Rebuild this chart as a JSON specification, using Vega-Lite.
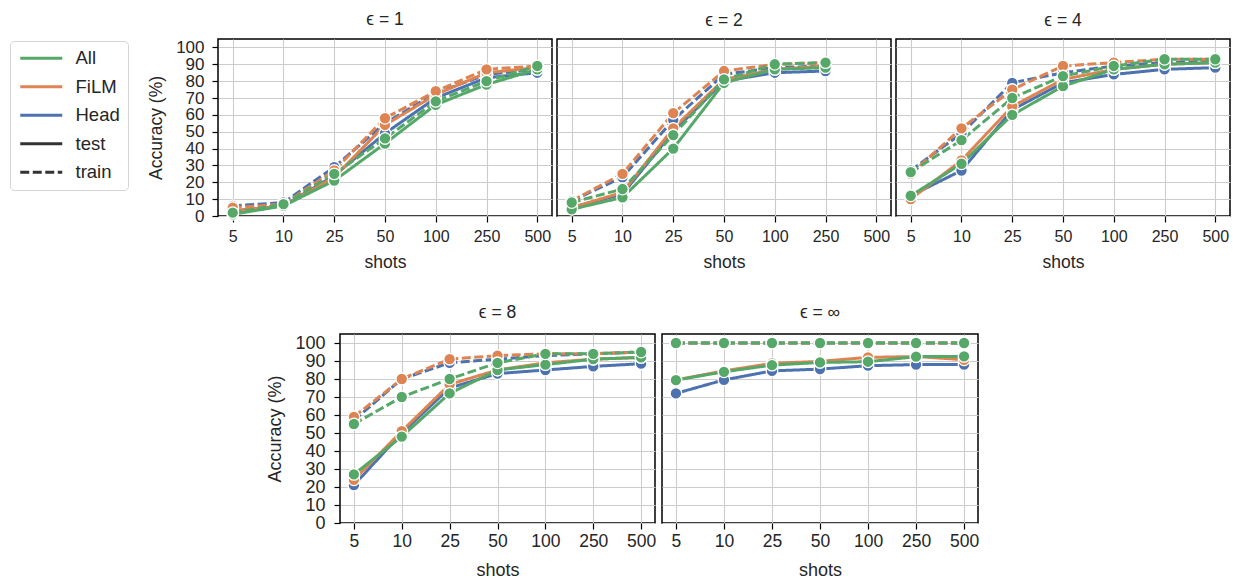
{
  "$schema": "https://vega.github.io/schema/vega-lite/v6.json",
  "padding": {"left": 9, "top": 10, "right": 2, "bottom": 0},
  "background": "white",
  "datasets": {
    "acc": [
      {"eps":"1","config":"Head","split":"test","shots":5,"acc":3},
      {"eps":"1","config":"Head","split":"test","shots":10,"acc":6},
      {"eps":"1","config":"Head","split":"test","shots":25,"acc":24},
      {"eps":"1","config":"Head","split":"test","shots":50,"acc":49},
      {"eps":"1","config":"Head","split":"test","shots":100,"acc":70},
      {"eps":"1","config":"Head","split":"test","shots":250,"acc":82},
      {"eps":"1","config":"Head","split":"test","shots":500,"acc":85},
      {"eps":"1","config":"Head","split":"train","shots":5,"acc":6},
      {"eps":"1","config":"Head","split":"train","shots":10,"acc":8},
      {"eps":"1","config":"Head","split":"train","shots":25,"acc":29},
      {"eps":"1","config":"Head","split":"train","shots":50,"acc":55},
      {"eps":"1","config":"Head","split":"train","shots":100,"acc":73},
      {"eps":"1","config":"Head","split":"train","shots":250,"acc":84},
      {"eps":"1","config":"Head","split":"train","shots":500,"acc":87},
      {"eps":"1","config":"FiLM","split":"test","shots":5,"acc":3},
      {"eps":"1","config":"FiLM","split":"test","shots":10,"acc":6},
      {"eps":"1","config":"FiLM","split":"test","shots":25,"acc":23},
      {"eps":"1","config":"FiLM","split":"test","shots":50,"acc":54},
      {"eps":"1","config":"FiLM","split":"test","shots":100,"acc":72},
      {"eps":"1","config":"FiLM","split":"test","shots":250,"acc":85},
      {"eps":"1","config":"FiLM","split":"test","shots":500,"acc":88},
      {"eps":"1","config":"FiLM","split":"train","shots":5,"acc":5},
      {"eps":"1","config":"FiLM","split":"train","shots":10,"acc":7},
      {"eps":"1","config":"FiLM","split":"train","shots":25,"acc":27},
      {"eps":"1","config":"FiLM","split":"train","shots":50,"acc":58},
      {"eps":"1","config":"FiLM","split":"train","shots":100,"acc":74},
      {"eps":"1","config":"FiLM","split":"train","shots":250,"acc":87},
      {"eps":"1","config":"FiLM","split":"train","shots":500,"acc":89},
      {"eps":"1","config":"All","split":"test","shots":5,"acc":1},
      {"eps":"1","config":"All","split":"test","shots":10,"acc":6},
      {"eps":"1","config":"All","split":"test","shots":25,"acc":21},
      {"eps":"1","config":"All","split":"test","shots":50,"acc":43},
      {"eps":"1","config":"All","split":"test","shots":100,"acc":66},
      {"eps":"1","config":"All","split":"test","shots":250,"acc":78},
      {"eps":"1","config":"All","split":"test","shots":500,"acc":87},
      {"eps":"1","config":"All","split":"train","shots":5,"acc":2},
      {"eps":"1","config":"All","split":"train","shots":10,"acc":7},
      {"eps":"1","config":"All","split":"train","shots":25,"acc":25},
      {"eps":"1","config":"All","split":"train","shots":50,"acc":46},
      {"eps":"1","config":"All","split":"train","shots":100,"acc":68},
      {"eps":"1","config":"All","split":"train","shots":250,"acc":80},
      {"eps":"1","config":"All","split":"train","shots":500,"acc":89},

      {"eps":"2","config":"Head","split":"test","shots":5,"acc":5},
      {"eps":"2","config":"Head","split":"test","shots":10,"acc":13},
      {"eps":"2","config":"Head","split":"test","shots":25,"acc":50},
      {"eps":"2","config":"Head","split":"test","shots":50,"acc":80},
      {"eps":"2","config":"Head","split":"test","shots":100,"acc":85},
      {"eps":"2","config":"Head","split":"test","shots":250,"acc":86},
      {"eps":"2","config":"Head","split":"train","shots":5,"acc":9},
      {"eps":"2","config":"Head","split":"train","shots":10,"acc":23},
      {"eps":"2","config":"Head","split":"train","shots":25,"acc":57},
      {"eps":"2","config":"Head","split":"train","shots":50,"acc":84},
      {"eps":"2","config":"Head","split":"train","shots":100,"acc":88},
      {"eps":"2","config":"Head","split":"train","shots":250,"acc":89},
      {"eps":"2","config":"FiLM","split":"test","shots":5,"acc":5},
      {"eps":"2","config":"FiLM","split":"test","shots":10,"acc":14},
      {"eps":"2","config":"FiLM","split":"test","shots":25,"acc":52},
      {"eps":"2","config":"FiLM","split":"test","shots":50,"acc":81},
      {"eps":"2","config":"FiLM","split":"test","shots":100,"acc":87},
      {"eps":"2","config":"FiLM","split":"test","shots":250,"acc":89},
      {"eps":"2","config":"FiLM","split":"train","shots":5,"acc":9},
      {"eps":"2","config":"FiLM","split":"train","shots":10,"acc":25},
      {"eps":"2","config":"FiLM","split":"train","shots":25,"acc":61},
      {"eps":"2","config":"FiLM","split":"train","shots":50,"acc":86},
      {"eps":"2","config":"FiLM","split":"train","shots":100,"acc":90},
      {"eps":"2","config":"FiLM","split":"train","shots":250,"acc":91},
      {"eps":"2","config":"All","split":"test","shots":5,"acc":4},
      {"eps":"2","config":"All","split":"test","shots":10,"acc":11},
      {"eps":"2","config":"All","split":"test","shots":25,"acc":40},
      {"eps":"2","config":"All","split":"test","shots":50,"acc":79},
      {"eps":"2","config":"All","split":"test","shots":100,"acc":87},
      {"eps":"2","config":"All","split":"test","shots":250,"acc":88},
      {"eps":"2","config":"All","split":"train","shots":5,"acc":8},
      {"eps":"2","config":"All","split":"train","shots":10,"acc":16},
      {"eps":"2","config":"All","split":"train","shots":25,"acc":48},
      {"eps":"2","config":"All","split":"train","shots":50,"acc":81},
      {"eps":"2","config":"All","split":"train","shots":100,"acc":90},
      {"eps":"2","config":"All","split":"train","shots":250,"acc":91},

      {"eps":"4","config":"Head","split":"test","shots":5,"acc":12},
      {"eps":"4","config":"Head","split":"test","shots":10,"acc":27},
      {"eps":"4","config":"Head","split":"test","shots":25,"acc":63},
      {"eps":"4","config":"Head","split":"test","shots":50,"acc":79},
      {"eps":"4","config":"Head","split":"test","shots":100,"acc":84},
      {"eps":"4","config":"Head","split":"test","shots":250,"acc":87},
      {"eps":"4","config":"Head","split":"test","shots":500,"acc":88},
      {"eps":"4","config":"Head","split":"train","shots":5,"acc":27},
      {"eps":"4","config":"Head","split":"train","shots":10,"acc":49},
      {"eps":"4","config":"Head","split":"train","shots":25,"acc":79},
      {"eps":"4","config":"Head","split":"train","shots":50,"acc":85},
      {"eps":"4","config":"Head","split":"train","shots":100,"acc":89},
      {"eps":"4","config":"Head","split":"train","shots":250,"acc":91},
      {"eps":"4","config":"Head","split":"train","shots":500,"acc":92},
      {"eps":"4","config":"FiLM","split":"test","shots":5,"acc":10},
      {"eps":"4","config":"FiLM","split":"test","shots":10,"acc":33},
      {"eps":"4","config":"FiLM","split":"test","shots":25,"acc":65},
      {"eps":"4","config":"FiLM","split":"test","shots":50,"acc":81},
      {"eps":"4","config":"FiLM","split":"test","shots":100,"acc":87},
      {"eps":"4","config":"FiLM","split":"test","shots":250,"acc":90},
      {"eps":"4","config":"FiLM","split":"test","shots":500,"acc":91},
      {"eps":"4","config":"FiLM","split":"train","shots":5,"acc":25},
      {"eps":"4","config":"FiLM","split":"train","shots":10,"acc":52},
      {"eps":"4","config":"FiLM","split":"train","shots":25,"acc":75},
      {"eps":"4","config":"FiLM","split":"train","shots":50,"acc":89},
      {"eps":"4","config":"FiLM","split":"train","shots":100,"acc":91},
      {"eps":"4","config":"FiLM","split":"train","shots":250,"acc":93},
      {"eps":"4","config":"FiLM","split":"train","shots":500,"acc":93},
      {"eps":"4","config":"All","split":"test","shots":5,"acc":12},
      {"eps":"4","config":"All","split":"test","shots":10,"acc":31},
      {"eps":"4","config":"All","split":"test","shots":25,"acc":60},
      {"eps":"4","config":"All","split":"test","shots":50,"acc":77},
      {"eps":"4","config":"All","split":"test","shots":100,"acc":87},
      {"eps":"4","config":"All","split":"test","shots":250,"acc":90},
      {"eps":"4","config":"All","split":"test","shots":500,"acc":91},
      {"eps":"4","config":"All","split":"train","shots":5,"acc":26},
      {"eps":"4","config":"All","split":"train","shots":10,"acc":45},
      {"eps":"4","config":"All","split":"train","shots":25,"acc":70},
      {"eps":"4","config":"All","split":"train","shots":50,"acc":83},
      {"eps":"4","config":"All","split":"train","shots":100,"acc":89},
      {"eps":"4","config":"All","split":"train","shots":250,"acc":93},
      {"eps":"4","config":"All","split":"train","shots":500,"acc":93},

      {"eps":"8","config":"Head","split":"test","shots":5,"acc":21},
      {"eps":"8","config":"Head","split":"test","shots":10,"acc":50},
      {"eps":"8","config":"Head","split":"test","shots":25,"acc":75},
      {"eps":"8","config":"Head","split":"test","shots":50,"acc":83},
      {"eps":"8","config":"Head","split":"test","shots":100,"acc":85},
      {"eps":"8","config":"Head","split":"test","shots":250,"acc":87},
      {"eps":"8","config":"Head","split":"test","shots":500,"acc":88.5},
      {"eps":"8","config":"Head","split":"train","shots":5,"acc":57},
      {"eps":"8","config":"Head","split":"train","shots":10,"acc":80},
      {"eps":"8","config":"Head","split":"train","shots":25,"acc":89},
      {"eps":"8","config":"Head","split":"train","shots":50,"acc":91},
      {"eps":"8","config":"Head","split":"train","shots":100,"acc":93},
      {"eps":"8","config":"Head","split":"train","shots":250,"acc":94},
      {"eps":"8","config":"Head","split":"train","shots":500,"acc":95},
      {"eps":"8","config":"FiLM","split":"test","shots":5,"acc":24},
      {"eps":"8","config":"FiLM","split":"test","shots":10,"acc":51},
      {"eps":"8","config":"FiLM","split":"test","shots":25,"acc":77},
      {"eps":"8","config":"FiLM","split":"test","shots":50,"acc":85},
      {"eps":"8","config":"FiLM","split":"test","shots":100,"acc":89},
      {"eps":"8","config":"FiLM","split":"test","shots":250,"acc":91},
      {"eps":"8","config":"FiLM","split":"test","shots":500,"acc":92},
      {"eps":"8","config":"FiLM","split":"train","shots":5,"acc":59},
      {"eps":"8","config":"FiLM","split":"train","shots":10,"acc":80},
      {"eps":"8","config":"FiLM","split":"train","shots":25,"acc":91},
      {"eps":"8","config":"FiLM","split":"train","shots":50,"acc":93},
      {"eps":"8","config":"FiLM","split":"train","shots":100,"acc":94},
      {"eps":"8","config":"FiLM","split":"train","shots":250,"acc":94},
      {"eps":"8","config":"FiLM","split":"train","shots":500,"acc":95},
      {"eps":"8","config":"All","split":"test","shots":5,"acc":27},
      {"eps":"8","config":"All","split":"test","shots":10,"acc":48},
      {"eps":"8","config":"All","split":"test","shots":25,"acc":72},
      {"eps":"8","config":"All","split":"test","shots":50,"acc":85},
      {"eps":"8","config":"All","split":"test","shots":100,"acc":88},
      {"eps":"8","config":"All","split":"test","shots":250,"acc":91},
      {"eps":"8","config":"All","split":"test","shots":500,"acc":92},
      {"eps":"8","config":"All","split":"train","shots":5,"acc":55},
      {"eps":"8","config":"All","split":"train","shots":10,"acc":70},
      {"eps":"8","config":"All","split":"train","shots":25,"acc":80},
      {"eps":"8","config":"All","split":"train","shots":50,"acc":89},
      {"eps":"8","config":"All","split":"train","shots":100,"acc":94},
      {"eps":"8","config":"All","split":"train","shots":250,"acc":94},
      {"eps":"8","config":"All","split":"train","shots":500,"acc":95},

      {"eps":"inf","config":"Head","split":"test","shots":5,"acc":72},
      {"eps":"inf","config":"Head","split":"test","shots":10,"acc":79.5},
      {"eps":"inf","config":"Head","split":"test","shots":25,"acc":84.5},
      {"eps":"inf","config":"Head","split":"test","shots":50,"acc":85.5},
      {"eps":"inf","config":"Head","split":"test","shots":100,"acc":87.4},
      {"eps":"inf","config":"Head","split":"test","shots":250,"acc":88},
      {"eps":"inf","config":"Head","split":"test","shots":500,"acc":88},
      {"eps":"inf","config":"Head","split":"train","shots":5,"acc":100},
      {"eps":"inf","config":"Head","split":"train","shots":10,"acc":100},
      {"eps":"inf","config":"Head","split":"train","shots":25,"acc":100},
      {"eps":"inf","config":"Head","split":"train","shots":50,"acc":100},
      {"eps":"inf","config":"Head","split":"train","shots":100,"acc":100},
      {"eps":"inf","config":"Head","split":"train","shots":250,"acc":100},
      {"eps":"inf","config":"Head","split":"train","shots":500,"acc":100},
      {"eps":"inf","config":"FiLM","split":"test","shots":5,"acc":79.5},
      {"eps":"inf","config":"FiLM","split":"test","shots":10,"acc":84.5},
      {"eps":"inf","config":"FiLM","split":"test","shots":25,"acc":88.7},
      {"eps":"inf","config":"FiLM","split":"test","shots":50,"acc":89.8},
      {"eps":"inf","config":"FiLM","split":"test","shots":100,"acc":92},
      {"eps":"inf","config":"FiLM","split":"test","shots":250,"acc":92.5},
      {"eps":"inf","config":"FiLM","split":"test","shots":500,"acc":90.7},
      {"eps":"inf","config":"FiLM","split":"train","shots":5,"acc":100},
      {"eps":"inf","config":"FiLM","split":"train","shots":10,"acc":100},
      {"eps":"inf","config":"FiLM","split":"train","shots":25,"acc":100},
      {"eps":"inf","config":"FiLM","split":"train","shots":50,"acc":100},
      {"eps":"inf","config":"FiLM","split":"train","shots":100,"acc":100},
      {"eps":"inf","config":"FiLM","split":"train","shots":250,"acc":100},
      {"eps":"inf","config":"FiLM","split":"train","shots":500,"acc":100},
      {"eps":"inf","config":"All","split":"test","shots":5,"acc":79.4},
      {"eps":"inf","config":"All","split":"test","shots":10,"acc":84},
      {"eps":"inf","config":"All","split":"test","shots":25,"acc":87.7},
      {"eps":"inf","config":"All","split":"test","shots":50,"acc":89.2},
      {"eps":"inf","config":"All","split":"test","shots":100,"acc":89.6},
      {"eps":"inf","config":"All","split":"test","shots":250,"acc":92.4},
      {"eps":"inf","config":"All","split":"test","shots":500,"acc":92.6},
      {"eps":"inf","config":"All","split":"train","shots":5,"acc":100},
      {"eps":"inf","config":"All","split":"train","shots":10,"acc":100},
      {"eps":"inf","config":"All","split":"train","shots":25,"acc":100},
      {"eps":"inf","config":"All","split":"train","shots":50,"acc":100},
      {"eps":"inf","config":"All","split":"train","shots":100,"acc":100},
      {"eps":"inf","config":"All","split":"train","shots":250,"acc":100},
      {"eps":"inf","config":"All","split":"train","shots":500,"acc":100}
    ]
  },
  "config": {
    "font": "Liberation Sans",
    "view": {"stroke": "#000000", "strokeWidth": 1.5},
    "axis": {
      "grid": true, "gridColor": "#cccccc", "gridWidth": 1.1, "domain": false,
      "tickColor": "#000000", "tickSize": 6, "tickWidth": 1.2,
      "labelColor": "#262626", "titleColor": "#262626",
      "titleFontWeight": "normal", "labelOverlap": false
    },
    "title": {"fontSize": 17.5, "fontWeight": "normal", "color": "#262626", "offset": 10},
    "line": {"strokeWidth": 3},
    "point": {"filled": true, "size": 135, "stroke": "white", "strokeWidth": 1.3, "opacity": 1}
  },
  "spacing": 30,
  "vconcat": [
    {
      "spacing": 3,
      "hconcat": [
        {
          "width": 334, "height": 177,
          "title": "ϵ = 1",
          "data": {"name": "acc"},
          "transform": [{"filter": "datum.eps === '1'"}],
          "encoding": {
            "x": {"field": "shots", "type": "ordinal", "scale": {"type": "point", "domain": [5,10,25,50,100,250,500], "padding": 0.29}, "axis": {"title": "shots", "labelAngle": 0, "labelFontSize": 16, "titleFontSize": 17.5, "labelPadding": 6, "titlePadding": 9}},
            "y": {"field": "acc", "type": "quantitative", "scale": {"domain": [0,105], "nice": false, "zero": true}, "axis": {"title": "Accuracy (%)", "values": [0,10,20,30,40,50,60,70,80,90,100], "labelFontSize": 17, "titleFontSize": 17.5, "labelPadding": 8, "titlePadding": 10}},
            "color": {"field": "config", "type": "nominal", "scale": {"domain": ["All","FiLM","Head","test","train"], "range": ["#55a868","#dd8452","#4c72b0","#333333","#333333"]},
              "legend": {
                "orient": "none", "legendX": -208, "legendY": 2, "title": null,
                "symbolType": "M-1,0H5", "symbolSize": 196, "symbolStrokeWidth": 2.5,
                "labelFontSize": 18.5, "labelColor": "#262626", "labelOffset": 39,
                "rowPadding": 9.5, "padding": 8, "strokeColor": "#d5d5d5", "cornerRadius": 4, "fillColor": "white",
                "encode": {"symbols": {"fill": {"value": "transparent"}, "opacity": {"value": 1}}}
              }
            }
          },
          "layer": [
            {"mark": {"type": "line"}, "encoding": {"strokeDash": {"field": "split", "type": "nominal", "scale": {"domain": ["All","FiLM","Head","test","train"], "range": [[1,0],[1,0],[1,0],[1,0],[9,3.5]]},
              "legend": {"orient": "none", "legendX": -208, "legendY": 2, "title": null}}}},
            {"mark": {"type": "point"}, "encoding": {"order": {"field": "config", "sort": "descending"}}}
          ]
        },
        {
          "width": 334, "height": 177,
          "title": "ϵ = 2",
          "data": {"name": "acc"},
          "transform": [{"filter": "datum.eps === '2'"}],
          "encoding": {
            "x": {"field": "shots", "type": "ordinal", "scale": {"type": "point", "domain": [5,10,25,50,100,250,500], "padding": 0.29}, "axis": {"title": "shots", "labelAngle": 0, "labelFontSize": 16, "titleFontSize": 17.5, "labelPadding": 6, "titlePadding": 9}},
            "y": {"field": "acc", "type": "quantitative", "scale": {"domain": [0,105], "nice": false}, "axis": {"title": null, "labels": false, "ticks": false, "values": [0,10,20,30,40,50,60,70,80,90,100]}},
            "color": {"field": "config", "type": "nominal", "scale": {"domain": ["All","FiLM","Head","test","train"], "range": ["#55a868","#dd8452","#4c72b0","#333333","#333333"]}, "legend": null}
          },
          "layer": [
            {"mark": {"type": "line"}, "encoding": {"strokeDash": {"field": "split", "type": "nominal", "scale": {"domain": ["All","FiLM","Head","test","train"], "range": [[1,0],[1,0],[1,0],[1,0],[9,3.5]]}, "legend": null}}},
            {"mark": {"type": "point"}, "encoding": {"order": {"field": "config", "sort": "descending"}}}
          ]
        },
        {
          "width": 334, "height": 177,
          "title": "ϵ = 4",
          "data": {"name": "acc"},
          "transform": [{"filter": "datum.eps === '4'"}],
          "encoding": {
            "x": {"field": "shots", "type": "ordinal", "scale": {"type": "point", "domain": [5,10,25,50,100,250,500], "padding": 0.29}, "axis": {"title": "shots", "labelAngle": 0, "labelFontSize": 16, "titleFontSize": 17.5, "labelPadding": 6, "titlePadding": 9}},
            "y": {"field": "acc", "type": "quantitative", "scale": {"domain": [0,105], "nice": false}, "axis": {"title": null, "labels": false, "ticks": false, "values": [0,10,20,30,40,50,60,70,80,90,100]}},
            "color": {"field": "config", "type": "nominal", "scale": {"domain": ["All","FiLM","Head","test","train"], "range": ["#55a868","#dd8452","#4c72b0","#333333","#333333"]}, "legend": null}
          },
          "layer": [
            {"mark": {"type": "line"}, "encoding": {"strokeDash": {"field": "split", "type": "nominal", "scale": {"domain": ["All","FiLM","Head","test","train"], "range": [[1,0],[1,0],[1,0],[1,0],[9,3.5]]}, "legend": null}}},
            {"mark": {"type": "point"}, "encoding": {"order": {"field": "config", "sort": "descending"}}}
          ]
        }
      ]
    },
    {
      "spacing": 4,
      "hconcat": [
        {
          "width": 44, "height": 189,
          "data": {"values": []},
          "mark": {"type": "rule"},
          "encoding": {},
          "view": {"stroke": null}
        },
        {
          "width": 315, "height": 189,
          "title": {"text": "ϵ = 8", "offset": 13},
          "data": {"name": "acc"},
          "transform": [{"filter": "datum.eps === '8'"}],
          "encoding": {
            "x": {"field": "shots", "type": "ordinal", "scale": {"type": "point", "domain": [5,10,25,50,100,250,500], "padding": 0.29}, "axis": {"title": "shots", "labelAngle": 0, "labelFontSize": 17.5, "titleFontSize": 18, "labelPadding": 3, "titlePadding": 12}},
            "y": {"field": "acc", "type": "quantitative", "scale": {"domain": [0,105], "nice": false}, "axis": {"title": "Accuracy (%)", "values": [0,10,20,30,40,50,60,70,80,90,100], "labelFontSize": 18, "titleFontSize": 18, "labelPadding": 9, "titlePadding": 10}},
            "color": {"field": "config", "type": "nominal", "scale": {"domain": ["All","FiLM","Head","test","train"], "range": ["#55a868","#dd8452","#4c72b0","#333333","#333333"]}, "legend": null}
          },
          "layer": [
            {"mark": {"type": "line"}, "encoding": {"strokeDash": {"field": "split", "type": "nominal", "scale": {"domain": ["All","FiLM","Head","test","train"], "range": [[1,0],[1,0],[1,0],[1,0],[9,3.5]]}, "legend": null}}},
            {"mark": {"type": "point"}, "encoding": {"order": {"field": "config", "sort": "descending"}}}
          ]
        },
        {
          "width": 316, "height": 189,
          "title": {"text": "ϵ = ∞", "offset": 13},
          "data": {"name": "acc"},
          "transform": [{"filter": "datum.eps === 'inf'"}],
          "encoding": {
            "x": {"field": "shots", "type": "ordinal", "scale": {"type": "point", "domain": [5,10,25,50,100,250,500], "padding": 0.29}, "axis": {"title": "shots", "labelAngle": 0, "labelFontSize": 17.5, "titleFontSize": 18, "labelPadding": 3, "titlePadding": 12}},
            "y": {"field": "acc", "type": "quantitative", "scale": {"domain": [0,105], "nice": false}, "axis": {"title": null, "labels": false, "ticks": false, "values": [0,10,20,30,40,50,60,70,80,90,100]}},
            "color": {"field": "config", "type": "nominal", "scale": {"domain": ["All","FiLM","Head","test","train"], "range": ["#55a868","#dd8452","#4c72b0","#333333","#333333"]}, "legend": null}
          },
          "layer": [
            {"mark": {"type": "line"}, "encoding": {"strokeDash": {"field": "split", "type": "nominal", "scale": {"domain": ["All","FiLM","Head","test","train"], "range": [[1,0],[1,0],[1,0],[1,0],[9,3.5]]}, "legend": null}}},
            {"mark": {"type": "point"}, "encoding": {"order": {"field": "config", "sort": "descending"}}}
          ]
        }
      ]
    }
  ]
}
